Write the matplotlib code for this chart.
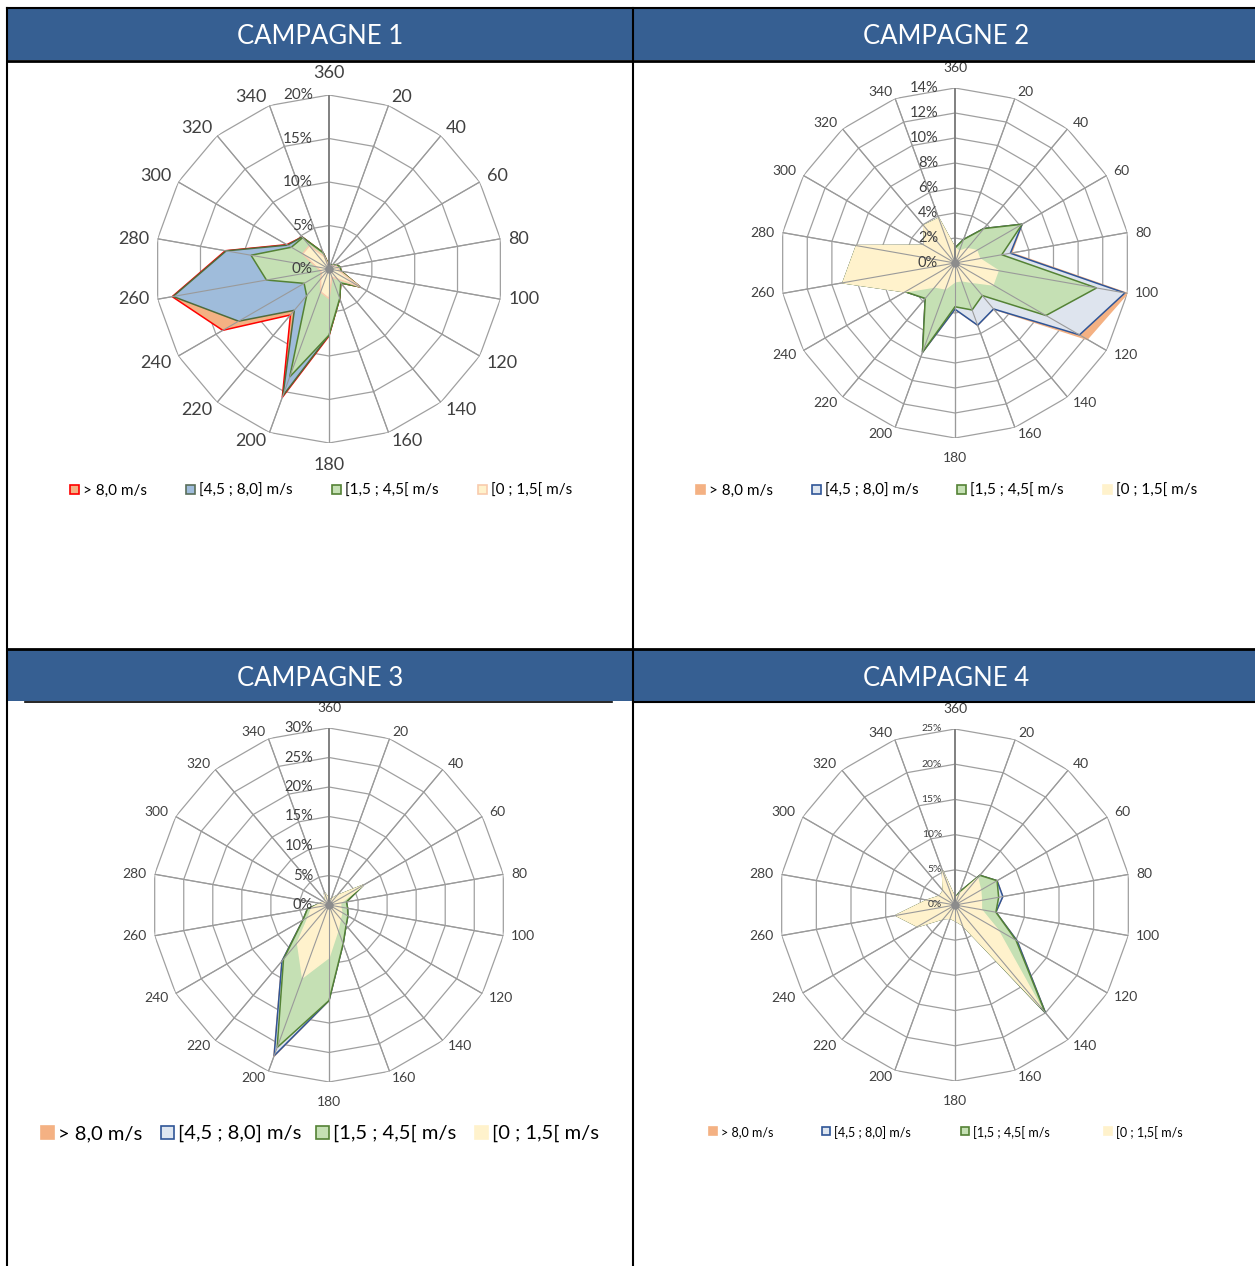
import numpy as np
import matplotlib
matplotlib.use("Agg")
import matplotlib.pyplot as plt
from matplotlib.patches import Rectangle
from matplotlib.lines import Line2D

plt.rcParams['font.family'] = ['Lato', 'DejaVu Sans']

W, H = 1255, 1266

# directions (degrees) and their labels
directions = [0, 20, 40, 60, 80, 100, 120, 140, 160, 180, 200, 220, 240, 260, 280, 300, 320, 340]
dir_labels = ["360", "20", "40", "60", "80", "100", "120", "140", "160", "180",
              "200", "220", "240", "260", "280", "300", "320", "340"]
classes = ["> 8,0 m/s", "[4,5 ; 8,0] m/s", "[1,5 ; 4,5[ m/s", "[0 ; 1,5[ m/s"]
titles = ["CAMPAGNE 1", "CAMPAGNE 2", "CAMPAGNE 3", "CAMPAGNE 4"]

# cumulated frequencies (%) per class, campagne 1
c1_sup8 = [0.4, 0.5, 0.6, 1.0, 1.3, 1.4, 4.1, 2.1, 3.6, 7.7, 15.7, 6.9, 14.1, 18.3, 12.1, 5.6, 4.8, 2.0]
c1_45_8 = [0.4, 0.5, 0.6, 1.0, 1.3, 1.4, 4.1, 2.1, 3.6, 7.6, 15.5, 6.2, 12.0, 18.2, 12.0, 5.5, 4.8, 2.0]
c1_15_45 = [0.4, 0.5, 0.6, 1.0, 1.3, 1.4, 4.1, 2.1, 3.6, 7.6, 13.2, 4.0, 3.3, 7.3, 9.1, 5.0, 4.7, 2.0]
c1_0_15 = [0.3, 0.4, 0.5, 0.8, 1.0, 1.2, 4.1, 1.5, 1.0, 3.4, 2.8, 1.5, 1.0, 1.0, 1.5, 3.5, 3.5, 1.5]

# campagne 2
c2_sup8 = [1.2, 2.0, 3.6, 6.2, 4.6, 14.0, 12.2, 4.8, 5.3, 3.7, 7.6, 3.7, 4.6, 9.1, 8.0, 2.8, 3.9, 3.8]
c2_45_8 = [1.2, 2.0, 3.6, 6.2, 4.5, 13.8, 11.5, 4.8, 5.3, 3.7, 7.6, 3.7, 4.6, 9.1, 8.0, 2.8, 3.9, 3.8]
c2_15_45 = [1.2, 2.0, 3.6, 6.2, 3.8, 11.5, 8.4, 3.4, 4.0, 3.5, 7.6, 3.7, 4.6, 9.1, 8.0, 2.8, 3.9, 3.8]
c2_0_15 = [1.2, 1.0, 1.5, 2.0, 2.0, 3.5, 3.5, 2.0, 1.5, 1.5, 2.2, 2.5, 4.6, 9.1, 8.0, 2.8, 3.9, 3.8]

# campagne 3
c3_sup8 = [1.0, 1.0, 2.0, 6.7, 3.0, 3.2, 3.7, 4.5, 7.0, 16.2, 27.3, 12.4, 5.1, 3.7, 1.5, 1.0, 1.0, 2.2]
c3_45_8 = [1.0, 1.0, 2.0, 6.7, 3.0, 3.2, 3.7, 4.5, 7.0, 16.2, 27.2, 12.4, 5.1, 3.7, 1.5, 1.0, 1.0, 2.2]
c3_15_45 = [1.0, 1.0, 2.0, 6.7, 3.0, 3.2, 3.7, 4.5, 7.0, 16.2, 25.7, 12.0, 5.1, 3.7, 1.5, 1.0, 1.0, 2.2]
c3_0_15 = [1.0, 1.0, 2.0, 6.7, 2.0, 2.0, 2.5, 3.0, 4.5, 8.9, 13.1, 8.3, 4.0, 3.0, 1.5, 1.0, 1.0, 2.2]

# campagne 4
c4_sup8 = [1.0, 2.0, 5.5, 6.9, 6.9, 5.9, 10.2, 20.0, 3.0, 2.2, 2.0, 2.5, 6.1, 8.5, 4.0, 2.5, 2.6, 5.2]
c4_45_8 = [1.0, 2.0, 5.5, 6.9, 6.9, 5.9, 10.2, 20.0, 3.0, 2.2, 2.0, 2.5, 6.1, 8.5, 4.0, 2.5, 2.6, 5.2]
c4_15_45 = [1.0, 2.0, 5.5, 6.9, 6.3, 5.9, 10.0, 19.9, 3.0, 2.2, 2.0, 2.5, 6.1, 8.5, 4.0, 2.5, 2.6, 5.2]
c4_0_15 = [1.0, 1.5, 5.0, 4.2, 3.8, 3.8, 7.0, 19.0, 3.0, 2.2, 2.0, 2.5, 6.1, 8.5, 4.0, 2.5, 2.6, 5.2]

campagnes = [
    [c1_sup8, c1_45_8, c1_15_45, c1_0_15],
    [c2_sup8, c2_45_8, c2_15_45, c2_0_15],
    [c3_sup8, c3_45_8, c3_15_45, c3_0_15],
    [c4_sup8, c4_45_8, c4_15_45, c4_0_15],
]

# styles: (face, edge) per class
style_c1 = [("#F4B183", "#FF0000"), ("#9FBCDB", "#4F6B3A"), ("#C5E0B4", "#548235"), ("#FFF2CC", "#F8CBAD")]
style_other = [("#F4B183", "#F4B183"), ("#DEE4EE", "#2F5597"), ("#C5E0B4", "#548235"), ("#FFF2CC", "#FFF2CC")]
leg_c1 = [("#F4B183", "#FF0000"), ("#9FBCDB", "#5A6E5A"), ("#C5E0B4", "#548235"), ("#FFF2CC", "#F8CBAD")]
leg_other = [("#F4B183", "#F4B183"), ("#DEE6F0", "#2F5597"), ("#C5E0B4", "#548235"), ("#FFF2CC", "#FFF2CC")]

# layout per panel (pixels)
panels = [
    dict(cx=329, cy=269, R=174, rmax=20, step=5, fdir=13, fpct=11, poff=16,
         leg_y=489, leg_x=[74, 190, 336, 482], leg_fs=11, leg_sq=9, leg_gap=9,
         styles=style_c1, leg=leg_c1),
    dict(cx=955, cy=263, R=175, rmax=14, step=2, fdir=10, fpct=10.5, poff=17,
         leg_y=489, leg_x=[700, 816, 961, 1107], leg_fs=11, leg_sq=9, leg_gap=9,
         styles=style_other, leg=leg_other),
    dict(cx=329, cy=905, R=177, rmax=30, step=5, fdir=10, fpct=10.5, poff=16,
         leg_y=1132, leg_x=[47, 167, 322, 481], leg_fs=14.5, leg_sq=13, leg_gap=11,
         styles=style_other, leg=leg_other),
    dict(cx=955, cy=905, R=176, rmax=25, step=5, fdir=10, fpct=7.5, poff=13,
         leg_y=1131, leg_x=[713, 826, 965, 1108], leg_fs=9, leg_sq=8, leg_gap=8,
         styles=style_other, leg=leg_other),
]


def fx(x):
    return x / W


def fy(y):
    return 1 - y / H


fig = plt.figure(figsize=(W / 100, H / 100), dpi=100)

# table frame and headers
header_col = "#365F92"
for (x0, x1, y0, y1) in [(8, 633, 9, 60), (634, 1255, 9, 60), (8, 633, 650, 701), (634, 1255, 650, 701)]:
    fig.add_artist(Rectangle((fx(x0), fy(y1)), fx(x1) - fx(x0), fy(y0) - fy(y1),
                             transform=fig.transFigure, facecolor=header_col, edgecolor="none"))
for (xs, ys, lw) in [([7, 7], [8, H], 1.5), ([633, 633], [8, H], 1.5), ([7, W], [8, 8], 1.5),
                     ([7, W], [60.5, 60.5], 2), ([7, W], [648.5, 648.5], 2), ([633, W], [702, 702], 1.5),
                     ([25, 612], [702, 702], 1.2)]:
    fig.add_artist(Line2D([fx(v) for v in xs], [fy(v) for v in ys], transform=fig.transFigure,
                          color="black", lw=lw))
for title, (tx, ty) in zip(titles, [(320, 36), (946, 36), (320, 678), (946, 678)]):
    fig.text(fx(tx), fy(ty), title, color="white", fontsize=18.5, ha="center", va="center")

theta = np.deg2rad(directions)
theta_c = np.append(theta, theta[0])

for data, p in zip(campagnes, panels):
    R = p["R"]
    ax = fig.add_axes([fx(p["cx"] - R), fy(p["cy"] + R), 2 * R / W, 2 * R / H], projection="polar")
    ax.set_theta_zero_location("N")
    ax.set_theta_direction(-1)
    ax.set_ylim(0, p["rmax"])
    ax.grid(False)
    ax.set_xticks([])
    ax.set_yticks([])
    ax.spines["polar"].set_visible(False)
    ax.patch.set_alpha(0)

    # polygon grid
    rings = np.arange(p["step"], p["rmax"] + 0.01, p["step"])
    for r in rings:
        ax.plot(theta_c, [r] * len(theta_c), color="#A0A0A0", lw=0.9, zorder=1)
    for t in theta[1:]:
        ax.plot([t, t], [0, p["rmax"]], color="#A0A0A0", lw=0.9, zorder=1)

    # series, outermost first
    for vals, (fc, ec) in zip(data, p["styles"]):
        v = np.append(vals, vals[0])
        ax.fill(theta_c, v, facecolor=fc, edgecolor=ec, lw=1.1, zorder=2)

    # spokes drawn over the areas, as in the original
    for t in theta[1:]:
        ax.plot([t, t], [0, p["rmax"]], color="#9A9A9A", lw=0.8, zorder=3)
    ax.plot([0, 0], [0, p["rmax"]], color="#808080", lw=1.4, zorder=3)
    ax.plot([0], [0], marker="o", ms=5, color="#8C8C8C", zorder=4)

    # direction labels, anchored on the side facing the chart
    for d, t, lab in zip(directions, theta, dir_labels):
        s, c = np.sin(t), np.cos(t)
        ha = "right" if s < -0.1 else ("left" if s > 0.1 else "center")
        va = "center" if abs(c) < 0.2 else ("bottom" if c > 0 else "top")
        if abs(c) > 0.99:
            dx, dy = 0, c * 14
        else:
            dx = s * 8
            dy = c * 5 - np.sign(c) * 4 if abs(c) >= 0.2 else 0
        ax.annotate(lab, xy=(t, p["rmax"]), xytext=(dx * 0.72, dy * 0.72),
                    textcoords="offset points", ha=ha, va=va, fontsize=p["fdir"],
                    color="#404040", annotation_clip=False)

    # value axis labels
    for r in np.append(0, rings):
        ax.annotate(f"{int(r)}%", xy=(0, r), xytext=(-p["poff"] * 0.72, 0), textcoords="offset points",
                    ha="right", va="center", fontsize=p["fpct"], color="#404040", zorder=5)

    # legend
    sq = p["leg_sq"]
    for lx, lab, (fc, ec) in zip(p["leg_x"], classes, p["leg"]):
        fig.add_artist(Rectangle((fx(lx - sq / 2), fy(p["leg_y"] + sq / 2)), sq / W, sq / H,
                                 transform=fig.transFigure, facecolor=fc, edgecolor=ec, lw=1.2))
        fig.text(fx(lx + p["leg_gap"]), fy(p["leg_y"] + 1.5), lab, fontsize=p["leg_fs"], ha="left",
                 va="center", color="black")

fig.savefig("out.png", dpi=100)
